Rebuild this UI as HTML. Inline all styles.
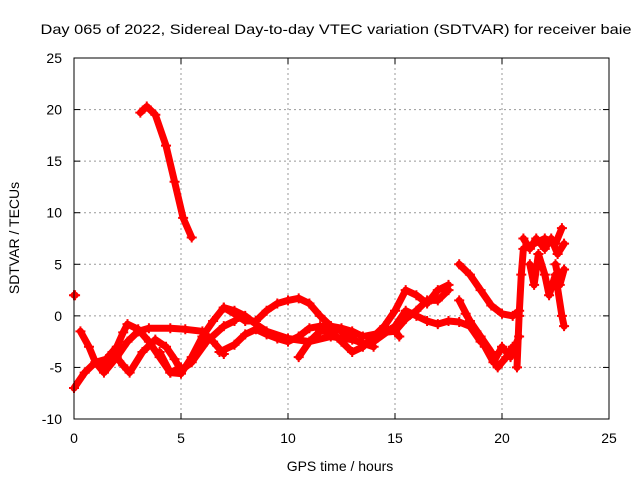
<!DOCTYPE html>
<html><head><meta charset="utf-8"><style>
body{margin:0;background:#fff;}
svg{display:block;font-family:"Liberation Sans",sans-serif;}
</style></head><body>
<svg id="chart" width="640" height="480" xmlns="http://www.w3.org/2000/svg">
<rect width="640" height="480" fill="#fff"/>
<text x="336" y="34" font-size="14" text-anchor="middle" textLength="591" lengthAdjust="spacingAndGlyphs">Day 065 of 2022, Sidereal Day-to-day VTEC variation (SDTVAR) for receiver baie</text>
<g id="grid"></g>
<g id="ticks"></g>
<g id="series"></g>
<rect x="74" y="58" width="535" height="361" fill="none" stroke="#000" stroke-width="1"/>
<text x="340" y="471" font-size="14" text-anchor="middle">GPS time / hours</text>
<text transform="translate(19,238) rotate(-90)" font-size="14" text-anchor="middle">SDTVAR / TECUs</text>
</svg>
<script>
const xTicks=[0,5,10,15,20,25];
const yTicks=[-10,-5,0,5,10,15,20,25];
const trackHigh=[[3.1,19.7],[3.4,20.3],[3.8,19.5],[4.3,16.5],[4.7,13],[5.1,9.5],[5.5,7.6]];
const trackDot=[[0,2],[0.05,2]];
const trackA=[[0,-7],[0.5,-5.5],[1,-4.5],[1.5,-4.2],[2,-3],[2.3,-1.6],[2.5,-0.8],[3,-1.3],[3.5,-2.5],[4,-4],[4.5,-5.5],[5,-5]];
const trackB=[[0.3,-1.5],[0.7,-3],[1,-4.5],[1.4,-5.5],[2,-4],[2.5,-2.5],[3,-1.5],[3.5,-1.2],[4.5,-1.2],[5.2,-1.3],[6,-1.5],[6.5,-2.5],[7,-3.7]];
const trackC=[[1.3,-5],[1.8,-3.5],[2.3,-4.8],[2.6,-5.5],[3.2,-3.5],[3.8,-2.3],[4.3,-3],[4.7,-4.2],[5,-5.3],[5.5,-4.5],[6.2,-2.5],[7,-1],[7.5,-0.5]];
const trackD=[[4,-3.5],[4.5,-5.5],[5,-5.6],[5.5,-4],[6,-2],[6.5,-0.5],[7,0.8],[7.5,0.5],[8,0],[8.5,-0.8],[9,-1.5],[10,-2.2],[11,-2.5],[12,-2],[13,-2.3],[14,-3]];
const trackE=[[7,0.8],[7.5,0.2],[8,-0.5],[8.5,-0.5],[9,0.5],[9.5,1.2],[10,1.5],[10.5,1.7],[11,1.2],[11.5,0],[12,-1],[12.5,-1.5],[13,-2]];
const trackF=[[6.8,-3.5],[7.5,-2.8],[8,-1.8],[8.5,-1.3],[9,-1.8],[9.5,-2.2],[10,-2.5],[10.5,-2],[11,-1.2],[11.5,-1],[12,-1],[12.5,-1.2],[13,-1.5],[13.5,-2],[14.5,-1.6],[15,-1.5],[15.2,-2]];
const trackG=[[10.5,-4],[11,-2.5],[11.5,-1.5],[12,-1.5],[12.5,-2.5],[13,-3.5],[13.5,-3],[14,-2],[14.5,-1],[15,0.5],[15.5,2.5],[16,2],[16.5,1.2],[17,2.5],[17.5,3]];
const trackH=[[14,-2.5],[15,-1],[15.5,0.5],[16,0],[16.5,-0.5],[17,-0.8],[17.5,-0.5],[18,-0.6],[18.5,-1],[19,-2.5]];
const trackI=[[15,-1.5],[15.5,-0.3],[16,0.5],[16.5,1.5],[17,1.5],[17.5,2.5]];
const trackJ=[[18,5],[18.5,4],[19,2.5],[19.5,1],[20,0.2],[20.5,0],[20.8,0.5]];
const trackK=[[18,1.5],[18.5,-0.5],[19,-2],[19.5,-3.5],[19.8,-5],[20.2,-4],[20.5,-3]];
const trackL=[[18.3,0.2],[18.8,-1.5],[19.2,-3],[19.6,-4.5],[20,-3],[20.4,-4],[20.8,-2]];
const trackM=[[20.7,-5],[20.8,0],[20.9,4],[21,6.5],[21.5,7],[22,7.5],[22.5,7],[22.8,8.5]];
const trackN=[[21.3,5],[21.5,3],[21.7,6],[22,4],[22.2,2],[22.5,4],[22.8,0],[22.9,-1]];
const trackO=[[22.5,5],[22.7,3],[22.9,4.5]];
const trackP=[[21,7.5],[21.3,6.5],[21.6,7.5],[22,6.5],[22.3,7.5],[22.6,6],[22.9,7]];
const tracks=[trackHigh,trackDot,trackA,trackB,trackC,trackD,trackE,trackF,trackG,trackH,trackI,trackJ,trackK,trackL,trackM,trackN,trackO,trackP];

const X0=74,X1=609,Y0=419,Y1=58,xMin=0,xMax=25,yMin=-10,yMax=25;
const sx=v=>X0+(v-xMin)/(xMax-xMin)*(X1-X0);
const sy=v=>Y0-(v-yMin)/(yMax-yMin)*(Y0-Y1);
const NS="http://www.w3.org/2000/svg";
const grid=document.getElementById('grid'),ticks=document.getElementById('ticks'),ser=document.getElementById('series');
function mk(tag,attrs,parent){const e=document.createElementNS(NS,tag);for(const k in attrs)e.setAttribute(k,attrs[k]);parent.appendChild(e);return e;}
xTicks.forEach(t=>{
  const x=sx(t);
  if(t>xMin&&t<xMax){const g=mk('line',{x1:x,x2:x,y1:Y1,y2:Y0,stroke:'#999','stroke-dasharray':'2,3'},grid);
  
  }
  mk('line',{x1:x,x2:x,y1:Y0,y2:Y0-6,stroke:'#000'},ticks);
  mk('line',{x1:x,x2:x,y1:Y1,y2:Y1+6,stroke:'#000'},ticks);
  const l=mk('text',{x:x,y:Y0+24,'font-size':14,'text-anchor':'middle'},ticks);l.textContent=t;
  
  
});
yTicks.forEach(t=>{
  const y=sy(t);
  if(t>yMin&&t<yMax){const g=mk('line',{x1:X0,x2:X1,y1:y,y2:y,stroke:'#999','stroke-dasharray':'2,3'},grid);
  
  }
  mk('line',{x1:X0,x2:X0+6,y1:y,y2:y,stroke:'#000'},ticks);
  mk('line',{x1:X1,x2:X1-6,y1:y,y2:y,stroke:'#000'},ticks);
  const l=mk('text',{x:X0-12,y:y+5,'font-size':14,'text-anchor':'end'},ticks);l.textContent=t;
  
  
});
tracks.forEach((tr,i)=>{
  const pts=tr.map(p=>sx(p[0]).toFixed(1)+','+sy(p[1]).toFixed(1)).join(' ');
  const pl=mk('polyline',{points:pts,fill:'none',stroke:'#f00','stroke-width':7,'stroke-linejoin':'round','stroke-linecap':'round'},ser);
  
  
  tr.forEach(p=>{
    const x=sx(p[0]),y=sy(p[1]);
    const m=mk('path',{d:`M${x-5},${y}H${x+5}M${x},${y-5}V${y+5}`,stroke:'#f00','stroke-width':2},ser);
    
    
  });
});
</script>
</body></html>
